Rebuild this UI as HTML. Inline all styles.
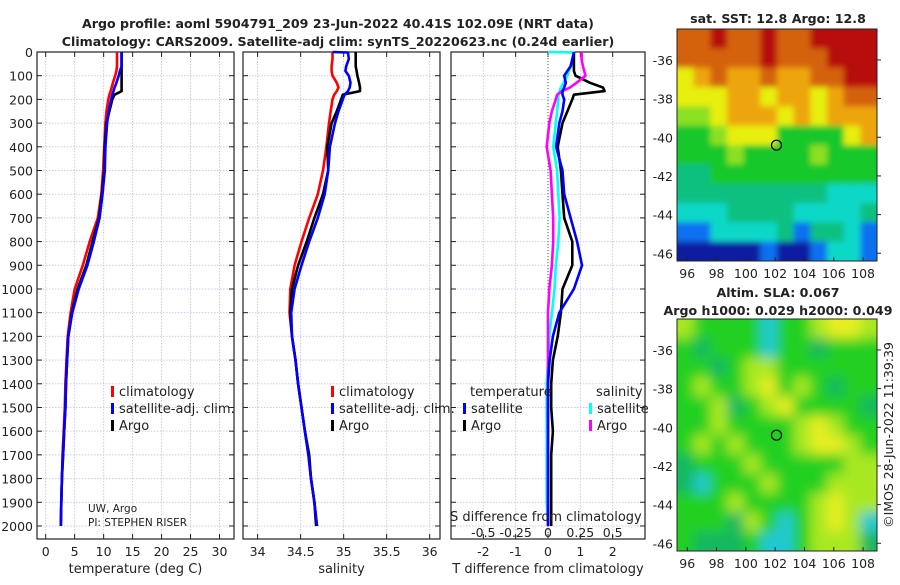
<!DOCTYPE html>
<html><head><meta charset="utf-8"><style>
body{margin:0;background:#fff;width:900px;height:580px;overflow:hidden}
svg text{font-family:"DejaVu Sans","Liberation Sans",sans-serif;fill:#222}
</style></head><body>
<svg id="fig" width="900" height="580" viewBox="0 0 900 580" xmlns="http://www.w3.org/2000/svg">
<defs>
<filter id="blur" x="0" y="0" width="1" height="1"><feGaussianBlur stdDeviation="6"/></filter>
<filter id="blur2" x="0" y="0" width="1" height="1"><feGaussianBlur stdDeviation="3"/></filter>
<clipPath id="c1"><rect x="677" y="29" width="200" height="232"/></clipPath>
<clipPath id="c2"><rect x="677" y="319" width="200" height="232"/></clipPath>
</defs>
<text x="338" y="28" font-size="12.6" font-weight="bold" text-anchor="middle">Argo profile: aoml 5904791_209 23-Jun-2022 40.41S 102.09E (NRT data)</text>
<text x="338" y="46" font-size="12.6" font-weight="bold" text-anchor="middle">Climatology: CARS2009. Satellite-adj clim: synTS_20220623.nc (0.24d earlier)</text>
<g id="plots"></g>
</svg>
<script>
const depths=[0,2,30,60,80,100,130,150,165,180,200,250,300,400,500,600,700,800,900,1000,1100,1200,1300,1400,1500,1600,1700,1800,1900,2000];
const tempClim=[12.3,12.3,12.3,12.3,12.2,12.0,11.6,11.4,11.2,11.0,10.8,10.5,10.3,10.1,9.9,9.6,9.0,7.6,6.4,5.0,4.3,3.8,3.6,3.4,3.3,3.1,2.9,2.8,2.7,2.6];
const tempSat=[13.1,13.1,13.1,13.1,12.8,12.6,12.2,11.9,11.7,11.5,11.3,10.9,10.6,10.3,10.2,9.8,9.3,8.3,7.2,5.7,4.6,3.9,3.7,3.5,3.4,3.2,3.0,2.8,2.7,2.6];
const tempArgo=[13.1,13.1,13.1,13.1,13.1,13.1,13.1,13.1,13.1,11.9,11.5,11.0,10.5,10.2,10.1,9.7,9.2,8.1,7.0,5.5,4.5,3.9,3.7,3.5,3.4,3.2,3.0,2.8,2.7,2.6];
const salClim=[34.87,34.87,34.87,34.86,34.86,34.87,34.92,34.94,34.92,34.89,34.87,34.85,34.83,34.80,34.76,34.70,34.60,34.51,34.43,34.38,34.37,34.40,34.44,34.47,34.51,34.55,34.59,34.62,34.66,34.69];
const salSat=[34.87,35.05,35.06,35.03,35.02,35.06,35.08,35.07,35.05,35.01,34.99,34.94,34.90,34.84,34.82,34.78,34.70,34.60,34.51,34.43,34.39,34.40,34.44,34.47,34.51,34.55,34.59,34.62,34.66,34.69];
const salArgo=[35.14,35.14,35.14,35.14,35.15,35.16,35.18,35.19,35.19,34.99,34.97,34.92,34.86,34.81,34.82,34.76,34.66,34.57,34.47,34.40,34.38,34.40,34.44,34.47,34.51,34.55,34.60,34.62,34.66,34.68];
const tDiffSat=[0.8,0.8,0.75,0.7,0.6,0.5,0.55,0.5,0.45,0.45,0.5,0.45,0.35,0.25,0.45,0.5,0.7,0.9,1.05,0.8,0.35,0.15,0.05,0,0,0,0,0,0,0];
const tDiffArgo=[0.8,0.8,0.8,0.8,0.8,0.85,1.3,1.7,1.75,0.8,0.75,0.6,0.45,0.3,0.4,0.45,0.5,0.75,0.75,0.45,0.4,0.3,0.15,0.1,0.1,0.15,0.1,0.1,0.1,0.1];
const sDiffSat=[0,0.2,0.19,0.18,0.16,0.15,0.12,0.1,0.09,0.08,0.08,0.07,0.06,0.04,0.07,0.08,0.09,0.08,0.06,0.05,0.03,0.01,0,-0.01,-0.01,-0.01,-0.01,-0.01,-0.01,0];
const sDiffArgo=[0.26,0.26,0.26,0.27,0.28,0.29,0.22,0.17,0.11,0.07,0.06,0.03,0.01,-0.01,0.02,0.03,0.04,0.04,0.03,0.01,0,0,0,0,0,0,0,0,0,0];
const depthTicks=[0,100,200,300,400,500,600,700,800,900,1000,1100,1200,1300,1400,1500,1600,1700,1800,1900,2000];
const tempTicks=[0,5,10,15,20,25,30];
const salTicks=[34,34.5,35,35.5,36];
const tdTicks=[-2,-1,0,1,2];
const sdTicks=[-0.5,-0.25,0,0.25,0.5];
const sdTickLabels=["-0.5","-0.25","0","0.25","0.5"];
const lonTicks=[96,98,100,102,104,106,108];
const latTicks=[-36,-38,-40,-42,-44,-46];
const argoLon=102.09, argoLat=-40.41;
const sstGrid=["oorooroorrrr","ooooorooorrr","yaoaaoaaoorr","yyyaayaayaoo","llyaaayayaaa","gglyyyggggya","ggglgggglggg","ttgggggggggg","tttttttttccc","cccttttcccct","bbcccctbttcb","nnnnnbnnbccb"];
const slaGrid=["lggggcgglyyl","gtgggcggtggg","ggtgllgggggg","glgglyglgtgg","ggltglyggggt","gglgggglylgg","glglggglyylg","tggglgggggll","tcggglggglll","ggglgggglyll","gggtlgcglylc","gtttgccglllt"];

const NS="http://www.w3.org/2000/svg";
const root=document.getElementById('plots');
function el(tag,attrs,parent,txt){const e=document.createElementNS(NS,tag);for(const k in attrs)e.setAttribute(k,attrs[k]);if(txt!==undefined)e.textContent=txt;(parent||root).appendChild(e);return e;}
const Y0=52,Y1=539,D0=0,D1=2055;
const yD=d=>Y0+(d-D0)/(D1-D0)*(Y1-Y0);
function panel(name,x0,x1,v0,v1,ticks,labels,title){
  const g=el('g',{});
  
  
  const sx=v=>x0+(v-v0)/(v1-v0)*(x1-x0);
  ticks.forEach((t,i)=>{
    const l=el('line',{x1:sx(t),x2:sx(t),y1:Y0,y2:Y1,stroke:'#c8cce8','stroke-dasharray':'1.5 1.5','stroke-width':1},g);
    
    
    el('line',{x1:sx(t),x2:sx(t),y1:Y1,y2:Y1-5,stroke:'#222'},g);
    el('line',{x1:sx(t),x2:sx(t),y1:Y0,y2:Y0+5,stroke:'#222'},g);
    const tx=el('text',{x:sx(t),y:556,'font-size':12.5,'text-anchor':'middle'},g,labels[i]);
    
    
  });
  depthTicks.forEach(d=>{
    const l=el('line',{x1:x0,x2:x1,y1:yD(d),y2:yD(d),stroke:'#c8cce8','stroke-dasharray':'1.5 1.5'},g);
    
    
    el('line',{x1:x0,x2:x0+5,y1:yD(d),y2:yD(d),stroke:'#222'},g);
    el('line',{x1:x1,x2:x1-5,y1:yD(d),y2:yD(d),stroke:'#222'},g);
  });
  const fr=el('rect',{x:x0,y:Y0,width:x1-x0,height:Y1-Y0,fill:'none',stroke:'#222','stroke-width':1.2},g);
  
  
  const at=el('text',{x:(x0+x1)/2,y:573,'font-size':13,'text-anchor':'middle'},g,title);
  
  
  return {g,sx};
}
function line(p,vals,color,name,scale){
  const pts=vals.map((v,i)=>p.sx(v*(scale||1)).toFixed(1)+','+yD(depths[i]).toFixed(1)).join(' ');
  const l=el('polyline',{points:pts,fill:'none',stroke:color,'stroke-width':2.6,'stroke-linejoin':'round'},p.g);
  
  
}
function legend(g,x,y,color,label,name){
  const r=el('rect',{x:x,y:y-10,width:3,height:11,fill:color},g);
  
  
  const t=el('text',{x:x+8,y:y,'font-size':13},g,label);
  
  
}
depthTicks.forEach(d=>{
  const t=el('text',{x:33,y:yD(d)+5,'font-size':12.5,'text-anchor':'end'},root,String(d));
  
  
});
const p1=panel('temperature-panel',37,234,-1.5,32.5,tempTicks,tempTicks.map(String),'temperature (deg C)');
line(p1,tempClim,'#f00','temp-climatology-line');
line(p1,tempArgo,'#000','temp-argo-line');
line(p1,tempSat,'#00f','temp-satellite-line');
legend(p1.g,111,396,'#f00','climatology','legend-climatology');
legend(p1.g,111,413,'#00f','satellite-adj. clim.','legend-satellite');
legend(p1.g,111,430,'#000','Argo','legend-argo');
let t=el('text',{x:88,y:512,'font-size':10.5},p1.g,'UW, Argo');
t=el('text',{x:88,y:526,'font-size':10.5},p1.g,'PI: STEPHEN RISER');

const p2=panel('salinity-panel',243,440,33.83,36.12,salTicks,salTicks.map(String),'salinity');
line(p2,salClim,'#f00','sal-climatology-line');
line(p2,salArgo,'#000','sal-argo-line');
line(p2,salSat,'#00f','sal-satellite-line');
legend(p2.g,331,396,'#f00','climatology','legend-climatology');
legend(p2.g,331,413,'#00f','satellite-adj. clim.','legend-satellite');
legend(p2.g,331,430,'#000','Argo','legend-argo');

const p3=panel('difference-panel',451,645,-3,3,tdTicks,tdTicks.map(String),'T difference from climatology');
const z=el('line',{x1:p3.sx(0),x2:p3.sx(0),y1:Y0,y2:Y1,stroke:'#464','stroke-dasharray':'1 2'},p3.g);

line(p3,sDiffSat,'#0ff','sdiff-satellite-line',4);
line(p3,tDiffArgo,'#000','tdiff-argo-line');
line(p3,sDiffArgo,'#f0f','sdiff-argo-line',4);
line(p3,tDiffSat,'#00f','tdiff-satellite-line');
t=el('text',{x:470,y:396,'font-size':13},p3.g,'temperature');
t=el('text',{x:596,y:396,'font-size':13},p3.g,'salinity');
legend(p3.g,463,413,'#00f','satellite','legend-t-satellite');
legend(p3.g,463,430,'#000','Argo','legend-t-argo');
legend(p3.g,589,413,'#0ff','satellite','legend-s-satellite');
legend(p3.g,589,430,'#f0f','Argo','legend-s-argo');
t=el('text',{x:450,y:521,'font-size':13},p3.g,'S difference from climatology');
sdTicks.forEach((s,i)=>{
  const tt=el('text',{x:p3.sx(s*4),y:537,'font-size':12.5,'text-anchor':'middle'},p3.g,sdTickLabels[i]);
  
  
});

const colors={r:'#b80d0d',o:'#d4620a',a:'#eda510',y:'#e8ee10',l:'#8ce020',g:'#18c82c',t:'#10c080',c:'#10d8c8',b:'#1070f0',n:'#0a1ca0'};
const slaColors={g:'#22d022',l:'#a8e820',y:'#e6ee20',t:'#12b860',c:'#20c8d0'};
function map(name,top,grid,pal,clip,filt,pad,titles){
  const g=el('g',{});
  
  
  const X0=677,X1=877,L0=95.3,L1=108.95,LT=-34.4,LB=-46.4,h=232;
  const sx=v=>X0+(v-L0)/(L1-L0)*(X1-X0), sy=v=>top+(LT-v)/(LT-LB)*h;
  const cg=el('g',{'clip-path':'url(#'+clip+')'},g);
  const ig=el('g',{filter:'url(#'+filt+')'},cg);
  const rows=grid.length, cols=grid[0].length, cw=(X1-X0)/cols, ch=h/rows;
  grid.forEach((row,r)=>{[...row].forEach((c,k)=>{
    const x=X0+k*cw-(k==0?pad:0), y=top+r*ch-(r==0?pad:0);
    const w=cw+0.5+(k==0||k==cols-1?pad:0), hh=ch+0.5+(r==0||r==rows-1?pad:0);
    const cell=el('rect',{x:x,y:y,width:w,height:hh,fill:pal[c]},ig);
    
    
  });});
  el('rect',{x:X0,y:top,width:X1-X0,height:h,fill:'none',stroke:'#222'},g);
  lonTicks.forEach(v=>{
    el('line',{x1:sx(v),x2:sx(v),y1:top+h,y2:top+h-4,stroke:'#222'},g);
    const tt=el('text',{x:sx(v),y:top+h+17,'font-size':12.5,'text-anchor':'middle'},g,String(v));
    
    
  });
  latTicks.forEach(v=>{
    el('line',{x1:X1,x2:X1+4,y1:sy(v),y2:sy(v),stroke:'#222'},g);
    const tt=el('text',{x:673,y:sy(v)+5,'font-size':12.5,'text-anchor':'end'},g,String(v));
    
    
  });
  const m=el('circle',{cx:sx(argoLon),cy:sy(argoLat),r:5,fill:'none',stroke:'#000','stroke-width':1.2},g);
  
  
  titles.forEach(([txt,y])=>{
    const tt=el('text',{x:778,y:y,'font-size':12.6,'font-weight':'bold','text-anchor':'middle'},g,txt);
    
    
  });
}
map('sst-map',29,sstGrid,colors,'c1','blur2',10,[['sat. SST: 12.8 Argo: 12.8',23]]);
map('sla-map',319,slaGrid,slaColors,'c2','blur',14,[['Altim. SLA: 0.067',297],['Argo h1000: 0.029 h2000: 0.049',315]]);
t=el('text',{x:0,y:0,'font-size':12.5,'text-anchor':'middle',transform:'translate(893,435) rotate(-90)'},root,'©IMOS 28-Jun-2022 11:39:39');

</script>
</body></html>
